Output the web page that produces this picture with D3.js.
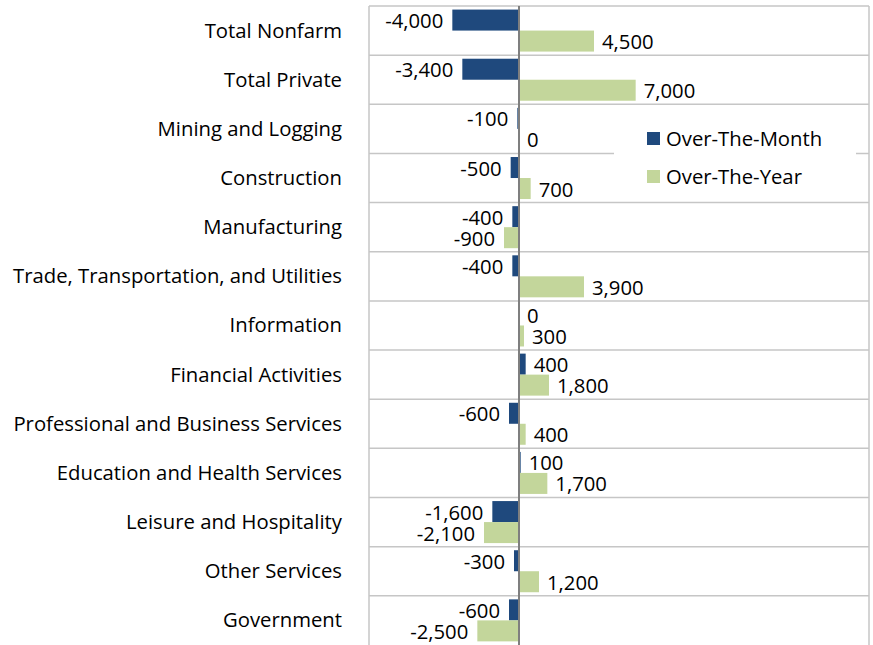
<!DOCTYPE html>
<html>
<head>
<meta charset="utf-8">
<script src="https://cdn.jsdelivr.net/npm/d3@7"></script>
<style>
  body { margin: 0; background: #fff; }
  text { font-family: "Open Sans", sans-serif; fill: #000; }
</style>
</head>
<body>
<div id="chart"></div>
<script>
var categories = ["Total Nonfarm", "Total Private", "Mining and Logging", "Construction",
    "Manufacturing", "Trade, Transportation, and Utilities", "Information",
    "Financial Activities", "Professional and Business Services",
    "Education and Health Services", "Leisure and Hospitality", "Other Services", "Government"];
var overTheMonth = [-4000, -3400, -100, -500, -400, -400, 0, 400, -600, 100, -1600, -300, -600];
var overTheYear = [4500, 7000, 0, 700, -900, 3900, 300, 1800, 400, 1700, -2100, 1200, -2500];
var seriesNames = ["Over-The-Month", "Over-The-Year"];
var seriesColors = ["#1f497d", "#c3d69b"];

var width = 873, height = 645;
var plot = {left: 369, right: 869, top: 6, bottom: 645};
var fontSize = "20.3px";

var svg = d3.select("#chart")
    .append("svg")
        .attr("width", width)
        .attr("height", height);

// x scale
var x = d3.scaleLinear()
    .domain([-9000, 21000])
    .range([plot.left, plot.right]);

// y band per category
var y = d3.scaleBand()
    .domain(categories)
    .range([plot.top, plot.top + 49.15 * categories.length])
    .padding(0);

// sub band per series
var ySub = d3.scaleBand()
    .domain(seriesNames)
    .range([0, y.bandwidth()])
    .paddingInner(0)
    .paddingOuter(0.17);

var rows = categories.map(function(c, i) {
    return {cat: c, values: [overTheMonth[i], overTheYear[i]]};
});

// grid lines between categories
svg.append("g")
    .selectAll("line")
    .data(categories)
    .enter()
    .append("line")
        .attr("x1", plot.left)
        .attr("x2", plot.right)
        .attr("y1", function(d) { return y(d); })
        .attr("y2", function(d) { return y(d); })
        .style("stroke", "#c6c6c6")
        .style("stroke-width", 1.5);

// plot border (left and right)
svg.append("line")
    .attr("x1", plot.left).attr("x2", plot.left)
    .attr("y1", plot.top).attr("y2", plot.bottom)
    .style("stroke", "#c6c6c6").style("stroke-width", 1.5);
svg.append("line")
    .attr("x1", plot.right).attr("x2", plot.right)
    .attr("y1", plot.top).attr("y2", plot.bottom)
    .style("stroke", "#c6c6c6").style("stroke-width", 1.5);

// category labels
svg.append("g")
    .selectAll("text")
    .data(categories)
    .enter()
    .append("text")
        .attr("x", 342)
        .attr("y", function(d) { return y(d) + y.bandwidth() / 2 - 1; })
        .attr("text-anchor", "end")
        .attr("dominant-baseline", "central")
        .style("font-size", fontSize)
        .text(function(d) { return d; });

// bars
var groups = svg.append("g")
    .selectAll("g")
    .data(rows)
    .enter()
    .append("g")
        .attr("transform", function(d) { return "translate(0," + y(d.cat) + ")"; });

groups.selectAll("rect")
    .data(function(d) { return d.values.map(function(v, j) { return {v: v, s: seriesNames[j], c: seriesColors[j]}; }); })
    .enter()
    .append("rect")
        .attr("x", function(d) { return x(Math.min(0, d.v)); })
        .attr("y", function(d) { return ySub(d.s); })
        .attr("width", function(d) { return Math.abs(x(d.v) - x(0)); })
        .attr("height", ySub.bandwidth())
        .style("fill", function(d) { return d.c; });

var fmt = d3.format(",");
groups.selectAll("text")
    .data(function(d) { return d.values.map(function(v, j) { return {v: v, s: seriesNames[j]}; }); })
    .enter()
    .append("text")
        .attr("x", function(d) { return d.v < 0 ? x(d.v) - 9 : x(d.v) + 8; })
        .attr("y", function(d) { return ySub(d.s) + ySub.bandwidth() / 2; })
        .attr("text-anchor", function(d) { return d.v < 0 ? "end" : "start"; })
        .attr("dominant-baseline", "central")
        .style("font-size", fontSize)
        .text(function(d) { return fmt(d.v).replace("−", "-"); });

// zero axis line
svg.append("line")
    .attr("x1", x(0)).attr("x2", x(0))
    .attr("y1", plot.top).attr("y2", plot.bottom)
    .style("stroke", "#7f7f7f")
    .style("stroke-width", 2);

// legend
var legend = svg.append("g");
legend.append("rect")
    .attr("x", 614).attr("y", 118)
    .attr("width", 242).attr("height", 78)
    .style("fill", "#fff");

legend.selectAll("rect.key")
    .data(seriesNames)
    .enter()
    .append("rect")
        .attr("class", "key")
        .attr("x", 647)
        .attr("y", function(d, i) { return 132 + i * 38; })
        .attr("width", 13)
        .attr("height", 13)
        .style("fill", function(d, i) { return seriesColors[i]; });

legend.selectAll("text")
    .data(seriesNames)
    .enter()
    .append("text")
        .attr("x", 666)
        .attr("y", function(d, i) { return 138 + i * 38; })
        .attr("dominant-baseline", "central")
        .style("font-size", fontSize)
        .text(function(d) { return d; });
</script>
</body>
</html>
